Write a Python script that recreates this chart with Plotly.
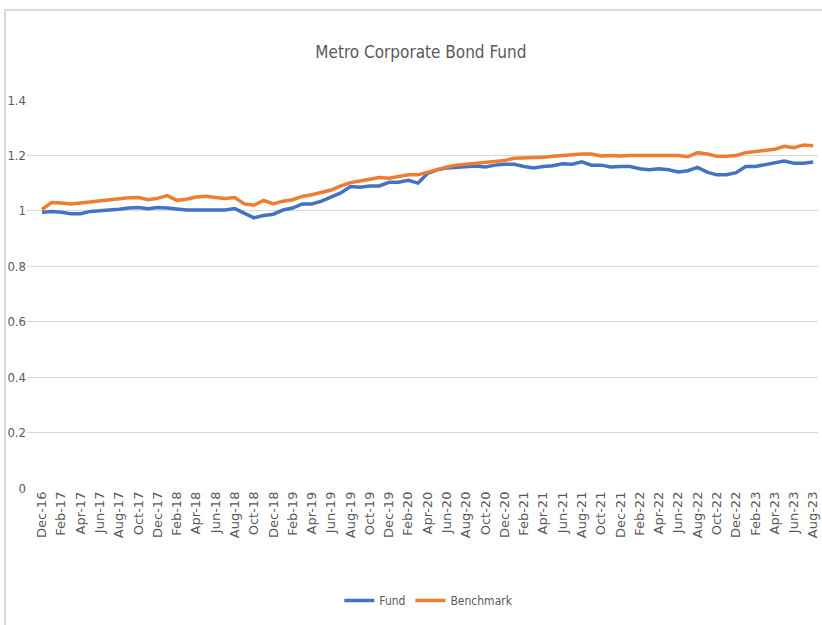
import plotly.graph_objects as go

months = []
names = ["Jan", "Feb", "Mar", "Apr", "May", "Jun", "Jul", "Aug", "Sep", "Oct", "Nov", "Dec"]
months.append("Dec-16")
for yr in range(17, 24):
    for m in names:
        months.append(f"{m}-{yr}")
        if yr == 23 and m == "Aug":
            break

fund = [0.995, 0.998, 0.995, 0.990, 0.990, 0.998, 1.000, 1.002, 1.006, 1.010,
        1.012, 1.008, 1.012, 1.010, 1.005, 1.003, 1.003, 1.003, 1.003, 1.003,
        1.008, 0.990, 0.975, 0.983, 0.988, 1.003, 1.010, 1.025, 1.025, 1.035,
        1.050, 1.065, 1.088, 1.085, 1.090, 1.090, 1.103, 1.103, 1.110, 1.100,
        1.135, 1.148, 1.155, 1.158, 1.160, 1.162, 1.158, 1.165, 1.168, 1.168,
        1.160, 1.155, 1.160, 1.163, 1.170, 1.168, 1.177, 1.165, 1.165, 1.158,
        1.160, 1.160, 1.152, 1.148, 1.152, 1.148, 1.140, 1.145, 1.157, 1.140,
        1.130, 1.130, 1.138, 1.160, 1.160, 1.167, 1.172, 1.180, 1.172, 1.172,
        1.176]

benchmark = [1.005, 1.030, 1.028, 1.025, 1.028, 1.032, 1.038, 1.040, 1.043, 1.047,
             1.048, 1.040, 1.045, 1.055, 1.038, 1.042, 1.050, 1.053, 1.048, 1.045,
             1.048, 1.025, 1.020, 1.038, 1.025, 1.035, 1.040, 1.052, 1.058, 1.065,
             1.075, 1.090, 1.102, 1.108, 1.115, 1.120, 1.118, 1.125, 1.130, 1.130,
             1.140, 1.150, 1.158, 1.165, 1.168, 1.172, 1.175, 1.178, 1.182, 1.190,
             1.190, 1.190, 1.193, 1.197, 1.200, 1.202, 1.205, 1.205, 1.198, 1.200,
             1.198, 1.200, 1.200, 1.200, 1.200, 1.200, 1.200, 1.195, 1.210, 1.205,
             1.197, 1.197, 1.200, 1.210, 1.215, 1.220, 1.222, 1.233, 1.228, 1.238,
             1.235]

y_ticks = [0, 0.2, 0.4, 0.6, 0.8, 1, 1.2, 1.4]
y_tick_text = ["0", "0.2", "0.4", "0.6", "0.8", "1", "1.2", "1.4"]

title_text = "Metro Corporate Bond Fund"
narrow = "DejaVu Sans Condensed, Liberation Sans Narrow, Liberation Sans, sans-serif"

fig = go.Figure()
fig.add_trace(go.Scatter(x=months, y=fund, mode="lines", name="Fund",
                         line=dict(color="#4472C4", width=3.5)))
fig.add_trace(go.Scatter(x=months, y=benchmark, mode="lines", name="Benchmark",
                         line=dict(color="#ED7D31", width=3.5)))

fig.update_layout(
    width=822, height=625,
    margin=dict(l=27, r=2, t=100, b=137),
    paper_bgcolor="white", plot_bgcolor="white",
    title=dict(text=title_text, x=0.512, xanchor="center", y=0.917, yanchor="middle",
               font=dict(family=narrow, size=17, color="#595959")),
    showlegend=True,
    legend=dict(orientation="h", x=0.508, xanchor="center", y=-0.29, yanchor="middle",
                font=dict(family=narrow, size=12, color="#595959"),
                itemwidth=30, traceorder="normal"),
    xaxis=dict(type="category", range=[-1.55, 80.5],
               tickmode="array", tickvals=months[::2], ticktext=months[::2],
               tickangle=-90, showgrid=False, zeroline=False, showline=False,
               ticks="", ticklen=0,
               tickfont=dict(family="DejaVu Sans, Liberation Sans, sans-serif", size=13,
                             color="#595959")),
    yaxis=dict(range=[0, 1.4], tickmode="array", tickvals=y_ticks,
               ticktext=y_tick_text, showgrid=True, gridcolor="#D9D9D9",
               gridwidth=1, zeroline=False, showline=False, ticks="",
               tickfont=dict(family=narrow, size=13, color="#595959"),
               automargin=False),
)

fig.add_shape(type="rect", xref="paper", yref="paper",
              x0=-0.0277, x1=1.05, y0=-0.5, y1=1.232,
              line=dict(color="#D9D9D9", width=2), fillcolor="rgba(0,0,0,0)",
              layer="below")

fig.write_html("out.html", config={"displayModeBar": False},
               post_script="document.body.style.margin='0';")
